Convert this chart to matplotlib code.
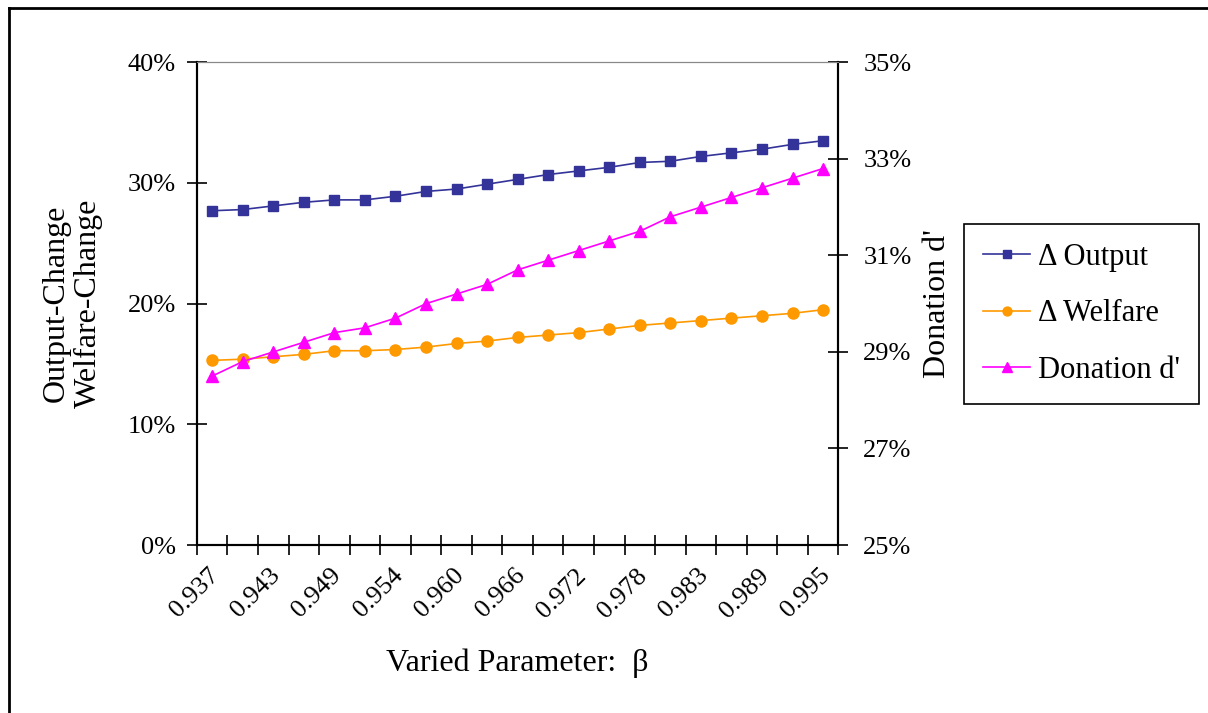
import matplotlib
matplotlib.use("Agg")
import matplotlib.pyplot as plt
import matplotlib.transforms as mtransforms
from matplotlib.lines import Line2D
from matplotlib.ticker import FuncFormatter, FixedLocator
import numpy as np

plt.rcParams['font.family'] = ['Liberation Serif', 'DejaVu Serif']

# varied parameter beta (category axis)
beta = [0.937, 0.940, 0.943, 0.946, 0.949, 0.952, 0.954, 0.957, 0.960, 0.963, 0.966,
        0.969, 0.972, 0.975, 0.978, 0.981, 0.983, 0.986, 0.989, 0.992, 0.995]

# percent changes, left axis
output_change = [27.7, 27.8, 28.1, 28.4, 28.6, 28.6, 28.9, 29.3, 29.5, 29.9, 30.3,
                 30.7, 31.0, 31.3, 31.7, 31.8, 32.2, 32.5, 32.8, 33.2, 33.5]
welfare_change = [15.3, 15.4, 15.6, 15.8, 16.1, 16.1, 16.2, 16.4, 16.7, 16.9, 17.2,
                  17.4, 17.6, 17.9, 18.2, 18.4, 18.6, 18.8, 19.0, 19.2, 19.5]

# donation d' in percent, right axis
donation = [28.5, 28.8, 29.0, 29.2, 29.4, 29.5, 29.7, 30.0, 30.2, 30.4, 30.7,
            30.9, 31.1, 31.3, 31.5, 31.8, 32.0, 32.2, 32.4, 32.6, 32.8]

navy = '#333399'
orange = '#FF9900'
magenta = '#FF00FF'

fig = plt.figure(figsize=(12.08, 7.13), dpi=100)
ax = fig.add_axes([0.163, 0.2356, 0.531, 0.677])
ax2 = ax.twinx()

x = np.arange(len(beta))
l1, = ax.plot(x, output_change, color=navy, lw=1.2, marker='s', ms=7.5,
              mec=navy, mfc=navy, label='Δ Output')
l2, = ax.plot(x, welfare_change, color=orange, lw=1.2, marker='o', ms=8,
              mec=orange, mfc=orange, label='Δ Welfare')
l3, = ax2.plot(x, donation, color=magenta, lw=1.2, marker='^', ms=8.5,
               mec=magenta, mfc=magenta, label="Donation d'")

ax.set_xlim(-0.5, len(beta) - 0.5)
ax.set_ylim(0, 40)
ax2.set_ylim(25, 35)
ax.set_yticks([0, 10, 20, 30, 40])
ax2.set_yticks([25, 27, 29, 31, 33, 35])
pct = FuncFormatter(lambda v, p: '%d%%' % v)
ax.yaxis.set_major_formatter(pct)
ax2.yaxis.set_major_formatter(pct)

# tick marks between categories, labels on every other category
ax.xaxis.set_major_locator(FixedLocator(np.arange(-0.5, len(beta), 1.0)))
ax.xaxis.set_major_formatter(FuncFormatter(lambda v, p: ''))
ax.xaxis.set_minor_locator(FixedLocator(x[::2]))
ax.xaxis.set_minor_formatter(FuncFormatter(lambda v, p: '%.3f' % beta[int(round(v))]))
ax.tick_params(axis='x', which='major', direction='inout', length=14, width=1.2)
ax.tick_params(axis='x', which='minor', length=0, pad=14, labelsize=19)
shift = mtransforms.ScaledTranslation(-4 / 100, 0, fig.dpi_scale_trans)
for lab in ax.get_xticklabels(minor=True):
    lab.set_rotation(45)
    lab.set_ha('right')
    lab.set_va('top')
    lab.set_rotation_mode('anchor')
    lab.set_transform(lab.get_transform() + shift)

ax.tick_params(axis='y', direction='inout', length=14, width=1.2, labelsize=19, pad=8)
ax2.tick_params(axis='y', direction='inout', length=14, width=1.2, labelsize=19, pad=11)

for a in (ax, ax2):
    a.spines['top'].set_color('#888888')
    a.spines['left'].set_linewidth(1.5)
    a.spines['right'].set_linewidth(1.5)
    a.spines['bottom'].set_linewidth(1.5)

ax.set_ylabel('Output-Change\nWelfare-Change', fontsize=23, labelpad=18, linespacing=1.15)
ax2.set_ylabel("Donation d'", fontsize=23, labelpad=8)
ax.set_xlabel('Varied Parameter:  β', fontsize=23, labelpad=19)

fig.legend(handles=[l1, l2, l3], loc='center left', bbox_to_anchor=(0.798, 0.56),
           fontsize=22, frameon=True, fancybox=False, edgecolor='black',
           framealpha=1, handlelength=1.55, labelspacing=0.9, borderpad=0.62,
           handletextpad=0.25, borderaxespad=0, markerscale=0.8)
fig.legends[0].get_frame().set_linewidth(1.2)

# outer chart border
fig.add_artist(Line2D([9 / 1208, 1.0], [1 - 8 / 713, 1 - 8 / 713], color='black', lw=2))
fig.add_artist(Line2D([9 / 1208, 9 / 1208], [0, 1 - 8 / 713], color='black', lw=2))

fig.savefig('out.png', dpi=100)
